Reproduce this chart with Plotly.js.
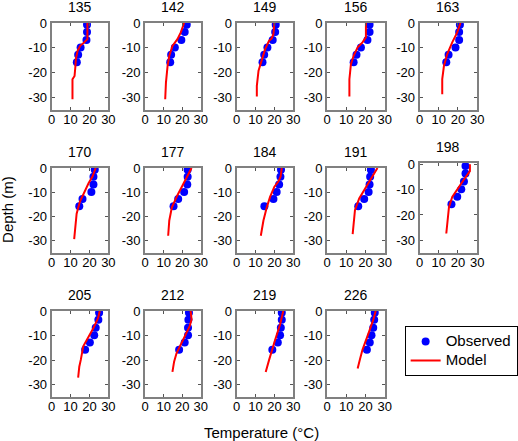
<!DOCTYPE html>
<html>
<head>
<meta charset="utf-8">
<script src="https://cdn.plot.ly/plotly-3.0.1.min.js"></script>
<style>html,body{margin:0;padding:0;background:#fff;}#chart{width:518px;height:441px;}</style>
</head>
<body>
<div id="chart"></div>
<script>
// ---- data ----
const days = ['135','142','149','156','163','170','177','184','191','198','205','212','219','226'];
const obsDepth = [-0.7, -3.6, -6.8, -9.9, -12.8, -15.8];

const obs135 = [18.7, 18.7, 18.4, 15.3, 14.0, 13.3];
const obs142 = [22.4, 21.3, 19.5, 16.0, 14.0, 13.5];
const obs149 = [20.7, 20.4, 19.1, 16.3, 14.6, 13.7];
const obs156 = [22.1, 22.1, 21.0, 17.6, 15.3, 13.8];
const obs163 = [21.0, 20.6, 20.6, 18.7, 15.1, 13.9];
const obs170 = [22.8, 22.1, 22.1, 21.0, 16.3, 14.6];
const obs177 = [22.9, 22.9, 22.7, 21.0, 17.8, 15.3];
const obs184 = [23.5, 23.2, 22.5, 21.2, 19.5, 14.7];
const obs191 = [22.8, 22.4, 22.1, 21.6, 19.3, 16.2];
const obs198 = [23.9, 23.9, 23.1, 21.7, 19.6, 16.6];
const obs205 = [25.1, 24.7, 23.3, 22.5, 20.2, 17.7];
const obs212 = [23.6, 23.3, 23.1, 23.1, 21.3, 18.3];
const obs219 = [23.9, 23.9, 23.4, 23.0, 21.8, 18.9];
const obs226 = [24.8, 24.5, 24.0, 23.1, 22.2, 20.7];

const modT135 = [18.9, 18.9, 17.2, 15.1, 13.7, 12.8, 12.5, 12.1, 11.0, 11.0];
const modD135 = [0, -6.5, -7.8, -9.2, -11.2, -14.5, -17.9, -21.3, -22.6, -30.7];
const modT142 = [21.0, 19.2, 17.4, 14.7, 13.0, 12.1, 11.2, 10.8];
const modD142 = [0, -3.8, -6.5, -9.2, -13.2, -17.2, -24.0, -30.7];
const modT149 = [20.0, 19.5, 18.6, 17.2, 15.1, 13.3, 11.6, 10.7, 10.7];
const modD149 = [0, -4.4, -6.2, -7.1, -10.5, -14.5, -19.2, -25.3, -29.6];
const modT156 = [20.2, 20.2, 18.4, 15.9, 13.8, 12.4, 11.6, 11.6];
const modD156 = [0, -5.8, -7.8, -9.8, -13.2, -16.6, -22.6, -29.6];
const modT163 = [21.3, 19.6, 17.0, 14.4, 12.7, 11.8, 11.8];
const modD163 = [0, -3.8, -7.8, -12.5, -17.2, -22.6, -28.7];
const modT170 = [23.3, 21.6, 19.5, 17.2, 14.9, 13.2, 12.3, 11.9];
const modD170 = [0, -3.5, -6.3, -9.8, -13.9, -18.8, -24.4, -29.3];
const modT177 = [25.0, 22.7, 20.0, 17.4, 14.4, 13.0, 12.4];
const modD177 = [0, -3.2, -7.0, -11.2, -16.2, -21.6, -27.9];
const modT184 = [23.9, 23.3, 22.1, 20.0, 17.7, 16.0, 14.2, 12.8];
const modD184 = [0, -3.5, -5.6, -7.7, -11.9, -16.1, -21.6, -27.9];
const modT191 = [26.2, 23.6, 20.2, 16.7, 14.5, 13.8, 13.3];
const modD191 = [0, -3.5, -7.7, -12.5, -17.4, -23.0, -27.2];
const modT198 = [26.2, 26.2, 23.1, 19.9, 17.0, 15.3, 14.4, 13.9];
const modD198 = [0, -2.7, -6.0, -9.6, -12.9, -16.9, -22.3, -27.3];
const modT205 = [25.4, 24.6, 22.1, 19.5, 16.7, 15.4, 14.6, 14.0];
const modD205 = [0, -2.8, -6.9, -10.3, -14.4, -19.9, -22.7, -27.1];
const modT212 = [24.5, 25.0, 24.0, 21.8, 19.2, 16.9, 15.6, 14.7];
const modD212 = [0, -3.4, -6.2, -9.6, -13.1, -17.2, -20.6, -24.8];
const modT219 = [24.7, 23.0, 20.4, 18.6, 17.2, 15.4];
const modD219 = [0, -5.5, -11.7, -15.8, -19.9, -24.8];
const modT226 = [25.3, 24.1, 21.9, 20.2, 18.4, 17.2, 15.9];
const modD226 = [0, -3.4, -8.3, -11.7, -15.8, -19.3, -23.4];

const obsTemps = [obs135, obs142, obs149, obs156, obs163, obs170, obs177, obs184, obs191, obs198, obs205, obs212, obs219, obs226];
const modTemps = [modT135, modT142, modT149, modT156, modT163, modT170, modT177, modT184, modT191, modT198, modT205, modT212, modT219, modT226];
const modDepths = [modD135, modD142, modD149, modD156, modD163, modD170, modD177, modD184, modD191, modD198, modD205, modD212, modD219, modD226];

const xTickVals = [0, 10, 20, 30];
const xTickText = ['0', '10', '20', '30'];
const yTickVals = [0, -10, -20, -30];
const yTickText = ['0', '-10', '-20', '-30'];

// ---- layout geometry (pixels) ----
const W = 518, H = 441;
const colPx = [[52, 109], [146, 202], [238, 295], [329, 387], [422, 480]];
const rowPx = [[23, 110], [168, 253], [311, 397]];
const FONT = 'Liberation Sans, Arial, Helvetica, sans-serif';

const traces = [];
const layout = {
  width: W, height: H,
  margin: {l: 0, r: 0, t: 0, b: 0, pad: 0},
  paper_bgcolor: '#fff', plot_bgcolor: '#fff',
  font: {family: FONT, size: 13, color: '#000'},
  showlegend: true,
  legend: {
    x: 407 / W, y: 1 - 326 / H, xanchor: 'left', yanchor: 'top',
    bordercolor: '#000', borderwidth: 1, bgcolor: '#fff',
    font: {family: FONT, size: 12.3, color: '#000'},
    tracegroupgap: 0
  },
  annotations: []
};

days.forEach((d, i) => {
  const r = Math.floor(i / 5), c = i % 5;
  const n = i === 0 ? '' : String(i + 1);
  const xa = 'x' + n, ya = 'y' + n;
  let top = rowPx[r][0];
  const bot = rowPx[r][1];
  let yr = [-35, 0];
  if (d === '198') { top = 163; yr = [-35, 0.5]; }

  layout['xaxis' + n] = {
    domain: [colPx[c][0] / W, colPx[c][1] / W],
    anchor: ya, range: [0, 30],
    tickmode: 'array', tickvals: xTickVals, ticktext: xTickText,
    ticks: 'inside', ticklen: 3, tickwidth: 1, tickcolor: '#555',
    ticklabelstandoff: -4,
    showline: true, linecolor: '#808080', linewidth: 2, mirror: 'ticks',
    showgrid: false, zeroline: false, fixedrange: true,
    tickfont: {family: FONT, size: 13, color: '#000'}
  };
  layout['yaxis' + n] = {
    domain: [1 - bot / H, 1 - top / H],
    anchor: xa, range: yr,
    tickmode: 'array', tickvals: yTickVals, ticktext: yTickText,
    ticks: 'inside', ticklen: 3, tickwidth: 1, tickcolor: '#555',
    showline: true, linecolor: '#808080', linewidth: 2, mirror: 'ticks',
    showgrid: false, zeroline: false, fixedrange: true,
    tickfont: {family: FONT, size: 13, color: '#000'}
  };
  layout.annotations.push({
    text: d, xref: 'paper', yref: 'paper',
    x: (colPx[c][0] + colPx[c][1]) / 2 / W, y: 1 - (top - 16) / H,
    xanchor: 'center', yanchor: 'middle', showarrow: false,
    font: {family: FONT, size: 14, color: '#000'}
  });

  traces.push({
    x: obsTemps[i], y: obsDepth, xaxis: xa, yaxis: ya,
    type: 'scatter', mode: 'markers',
    name: '<span style="font-size:15px">Observed</span>',
    marker: {color: '#0000ff', size: 8, symbol: 'circle'},
    showlegend: i === 0, legendgroup: 'obs', hoverinfo: 'skip'
  });
  traces.push({
    x: modTemps[i], y: modDepths[i], xaxis: xa, yaxis: ya,
    type: 'scatter', mode: 'lines',
    name: '<span style="font-size:15px">Model</span>',
    line: {color: '#ff0000', width: 2},
    showlegend: i === 0, legendgroup: 'mod', hoverinfo: 'skip'
  });
});

layout.annotations.push({
  text: 'Temperature (°C)', xref: 'paper', yref: 'paper',
  x: 263 / W, y: 1 - 432 / H, xanchor: 'center', yanchor: 'middle',
  showarrow: false, font: {family: FONT, size: 15, color: '#000'}
});
layout.annotations.push({
  text: 'Depth (m)', xref: 'paper', yref: 'paper',
  x: 8 / W, y: 1 - 209 / H, xanchor: 'center', yanchor: 'middle',
  textangle: -90, showarrow: false, font: {family: FONT, size: 15, color: '#000'}
});

Plotly.newPlot('chart', traces, layout, {staticPlot: true, displayModeBar: false});
</script>
</body>
</html>
